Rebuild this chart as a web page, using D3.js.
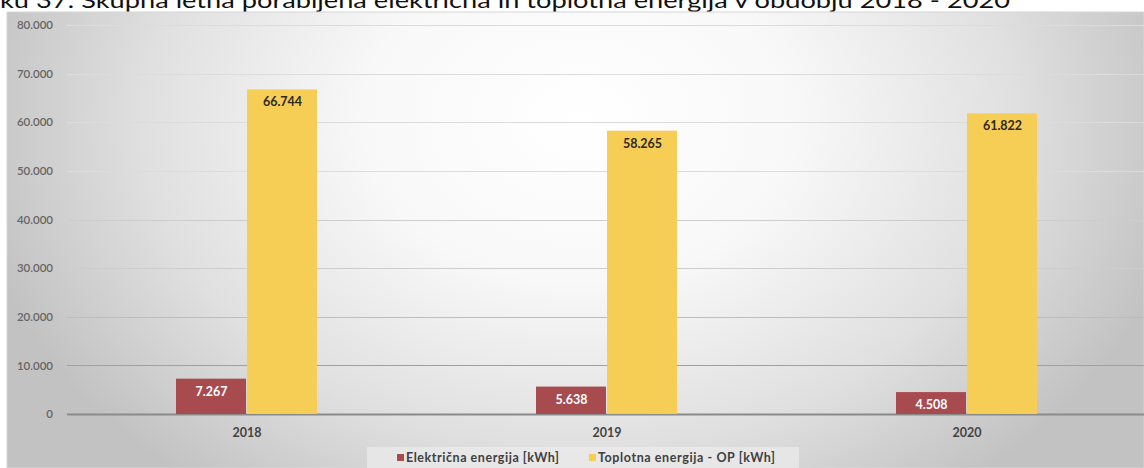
<!DOCTYPE html>
<html><head><meta charset="utf-8">
<script src="https://cdn.jsdelivr.net/npm/d3@7"></script>
<style>html,body{margin:0;padding:0;background:#fff;overflow:hidden}svg{display:block}</style>
</head><body><svg id="c" width="1144" height="468"></svg>
<script>
const categories = ["2018", "2019", "2020"];
const seriesNames = ["Električna energija [kWh]", "Toplotna energija - OP [kWh]"];
const elektricna = [7267, 5638, 4508];
const toplotna = [66744, 58265, 61822];
const yTicks = [0, 10000, 20000, 30000, 40000, 50000, 60000, 70000, 80000];
const titleText = "ku 37: Skupna letna porabljena električna in toplotna energija v obdobju 2018 - 2020";

const colors = ["#a84b4e", "#f6cd55"];
const svg = d3.select("#c");
const W = 1144, H = 468;
const fmt = v => d3.format(",")(v).replace(/,/g, ".");

// background gradient
const defs = svg.append("defs");
const rg = defs.append("radialGradient").attr("id", "bg")
  .attr("gradientUnits", "userSpaceOnUse")
  .attr("cx", 580).attr("cy", 120).attr("r", 620)
  .attr("gradientTransform", "translate(580,120) scale(1,0.75) translate(-580,-120)");
rg.append("stop").attr("offset", 0).attr("stop-color", "#ffffff");
rg.append("stop").attr("offset", 0.35).attr("stop-color", "#f8f8f8");
rg.append("stop").attr("offset", 0.7).attr("stop-color", "#e0e0e0");
rg.append("stop").attr("offset", 1).attr("stop-color", "#c2c2c2");

// title (cropped at top, as in the reference)
svg.append("text").attr("x", 0).attr("y", 8)
  .attr("font-family", "Lato, 'Open Sans', sans-serif").attr("font-size", 21)
  .attr("fill", "#111").attr("textLength", 1010).attr("lengthAdjust", "spacingAndGlyphs")
  .text(titleText);

svg.append("rect").attr("x", 7).attr("y", 12).attr("width", W - 7).attr("height", H - 12)
  .attr("fill", "url(#bg)").attr("stroke", "#d6d6d6").attr("stroke-width", 1);

const x0 = d3.scaleBand().domain(categories).range([67, 1147]).paddingInner(0.6056).paddingOuter(0.3028);
const x1 = d3.scaleBand().domain([0, 1]).range([0, x0.bandwidth()]);
const y = d3.scaleLinear().domain([0, 80000]).range([414, 25]);

// grid lines
const gridColor = v => v === 0 ? "#8a8a8a" : (v === 10000 ? "#a0a0a0" : (v === 20000 ? "#bdbdbd" : (v <= 40000 ? "#cdcdcd" : "#dcdcdc")));
svg.append("g").selectAll("line").data(yTicks).join("line")
  .attr("x1", 67).attr("x2", W).attr("y1", d => Math.round(y(d)) + 0.5).attr("y2", d => Math.round(y(d)) + 0.5)
  .attr("stroke", gridColor).attr("stroke-width", d => d === 0 ? 2 : 1);

// y axis labels
const yAxis = d3.axisLeft(y).tickValues(yTicks).tickFormat(fmt).tickSize(0).tickPadding(0);
const ya = svg.append("g").attr("transform", "translate(53,0)").call(yAxis);
ya.select(".domain").remove();
ya.selectAll("text").attr("font-family", "Lato, sans-serif").attr("font-size", 11.5)
  .attr("font-weight", 600).attr("fill", "#666666");

// x axis labels
const xAxis = d3.axisBottom(x0).tickSize(0).tickPadding(0);
const xa = svg.append("g").attr("transform", "translate(0,428)").call(xAxis);
xa.select(".domain").remove();
xa.selectAll("text").attr("font-family", "Lato, sans-serif").attr("font-size", 12.5)
  .attr("font-weight", 700).attr("fill", "#444444");

// bars
const data = categories.map((c, i) => ({ c, vals: [elektricna[i], toplotna[i]] }));
const groups = svg.append("g").selectAll("g").data(data).join("g")
  .attr("transform", d => `translate(${x0(d.c)},0)`);
groups.selectAll("rect").data(d => d.vals.map((v, k) => ({ v, k }))).join("rect")
  .attr("x", d => x1(d.k)).attr("width", x1.bandwidth() - 1)
  .attr("y", d => y(d.v)).attr("height", d => y(0) - y(d.v))
  .attr("fill", d => colors[d.k]);
groups.selectAll("text").data(d => d.vals.map((v, k) => ({ v, k }))).join("text")
  .attr("x", d => x1(d.k) + x1.bandwidth() / 2).attr("y", d => y(d.v) + 17)
  .attr("text-anchor", "middle").attr("font-family", "Lato, sans-serif")
  .attr("font-size", 12.5).attr("font-weight", 700)
  .attr("fill", d => d.k === 0 ? "#ffffff" : "#2e2a22")
  .text(d => fmt(d.v));

// legend
const lg = svg.append("g");
lg.append("rect").attr("x", 367).attr("y", 447).attr("width", 432).attr("height", 22).attr("fill", "#ececec").attr("opacity", 0.7);
const legX = [397, 589];
const legLen = [153, 177];
seriesNames.forEach((n, i) => {
  lg.append("rect").attr("x", legX[i]).attr("y", 454).attr("width", 7).attr("height", 7).attr("fill", colors[i]);
  lg.append("text").attr("x", legX[i] + 9).attr("y", 462)
    .attr("font-family", "Lato, sans-serif").attr("font-size", 12.5).attr("font-weight", 700)
    .attr("fill", "#404040").attr("textLength", legLen[i]).attr("lengthAdjust", "spacing").text(n);
});
</script></body></html>
